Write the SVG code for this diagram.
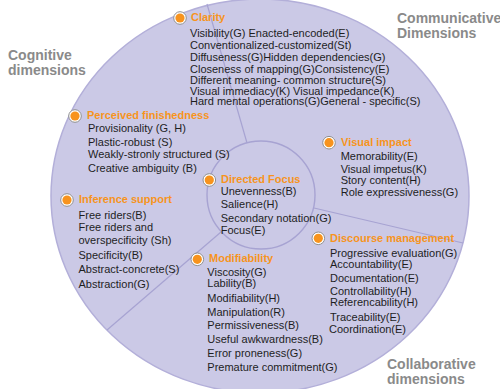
<svg xmlns="http://www.w3.org/2000/svg" width="500" height="389" viewBox="0 0 500 389">
  <style>
    .dim { font-family: "Liberation Sans", Arial, sans-serif; font-size: 14px; font-weight: bold; fill: #8a8a8a; }
    .head { font-family: "Liberation Sans", Arial, sans-serif; font-size: 11px; font-weight: bold; fill: #f7941d; }
    .item { font-family: "Liberation Sans", Arial, sans-serif; font-size: 11px; fill: #1e1e1e; }
    .ring { fill: #ffffff; stroke: #8f8f8f; stroke-width: 1; }
    .dot { fill: #f7931e; }
    .divider { stroke: #a7a3d2; stroke-width: 1.2; fill: none; }
  </style>
  <defs>
    <g id="bullet">
      <circle class="ring" r="6.3"/>
      <circle class="dot" r="4.6"/>
    </g>
  </defs>
  <rect width="500" height="389" fill="#ffffff"/>

  <!-- outer disc -->
  <g id="disc">
    <ellipse cx="260" cy="196" rx="209" ry="197" fill="#cbc9e6" stroke="#b3afd9" stroke-width="1.5"/>
  </g>

  <!-- spokes from the focus circle to the rim -->
  <g id="connectors">
    <line class="divider" x1="247" y1="143" x2="207" y2="4"/>
    <line class="divider" x1="314" y1="208" x2="463" y2="243"/>
    <line class="divider" x1="221" y1="232" x2="107" y2="330"/>
  </g>

  <g id="focus-circle">
    <circle cx="261" cy="195" r="54" fill="#cbc9e6" stroke="#a7a3d2" stroke-width="1.4"/>
  </g>

  <!-- dimension group labels -->
  <g id="cognitive">
    <text class="dim" x="8" y="60">Cognitive</text>
    <text class="dim" x="8" y="75">dimensions</text>
  </g>
  <g id="communicative">
    <text class="dim" x="397" y="23">Communicative</text>
    <text class="dim" x="397" y="38">Dimensions</text>
  </g>
  <g id="collaborative">
    <text class="dim" x="387" y="369">Collaborative</text>
    <text class="dim" x="387" y="384">dimensions</text>
  </g>

  <g id="clarity">
    <use href="#bullet" x="180" y="18"/>
    <text class="head" x="191" y="21">Clarity</text>
    <text class="item" x="190" y="37">Visibility(G) Enacted-encoded(E)</text>
    <text class="item" x="190" y="48.5">Conventionalized-customized(St)</text>
    <text class="item" x="190" y="60.5">Diffuseness(G)Hidden dependencies(G)</text>
    <text class="item" x="190" y="72.5">Closeness of mapping(G)Consistency(E)</text>
    <text class="item" x="190" y="84">Different meaning- common structure(S)</text>
    <text class="item" x="190" y="95">Visual immediacy(K) Visual impedance(K)</text>
    <text class="item" x="190" y="104.5">Hard mental operations(G)General - specific(S)</text>
  </g>

  <g id="perceived-finishedness">
    <use href="#bullet" x="75" y="116"/>
    <text class="head" x="87" y="119">Perceived finishedness</text>
    <text class="item" x="88" y="132.3">Provisionality (G, H)</text>
    <text class="item" x="88" y="145.7">Plastic-robust (S)</text>
    <text class="item" x="88" y="158.3">Weakly-stronly structured (S)</text>
    <text class="item" x="88" y="171.7">Creative ambiguity (B)</text>
  </g>

  <g id="inference-support">
    <use href="#bullet" x="67" y="200"/>
    <text class="head" x="79" y="203.3">Inference support</text>
    <text class="item" x="78.5" y="219">Free riders(B)</text>
    <text class="item" x="78.5" y="231">Free riders and</text>
    <text class="item" x="78.5" y="244">overspecificity (Sh)</text>
    <text class="item" x="78.5" y="259">Specificity(B)</text>
    <text class="item" x="78.5" y="273.3">Abstract-concrete(S)</text>
    <text class="item" x="78.5" y="287.7">Abstraction(G)</text>
  </g>

  <g id="directed-focus">
    <use href="#bullet" x="209.3" y="180"/>
    <text class="head" x="221" y="183.3">Directed Focus</text>
    <text class="item" x="220.7" y="195">Unevenness(B)</text>
    <text class="item" x="220.7" y="208.3">Salience(H)</text>
    <text class="item" x="220.7" y="221.7">Secondary notation(G)</text>
    <text class="item" x="220.7" y="234">Focus(E)</text>
  </g>

  <g id="visual-impact">
    <use href="#bullet" x="329" y="142.7"/>
    <text class="head" x="341" y="146">Visual impact</text>
    <text class="item" x="340.7" y="160">Memorability(E)</text>
    <text class="item" x="340.7" y="172.7">Visual impetus(K)</text>
    <text class="item" x="340.7" y="184">Story content(H)</text>
    <text class="item" x="340.7" y="195.7">Role expressiveness(G)</text>
  </g>

  <g id="discourse-management">
    <use href="#bullet" x="318.3" y="238.3"/>
    <text class="head" x="330" y="241.5">Discourse management</text>
    <text class="item" x="330" y="257.3">Progressive evaluation(G)</text>
    <text class="item" x="330" y="268">Accountability(E)</text>
    <text class="item" x="330" y="281.7">Documentation(E)</text>
    <text class="item" x="330" y="295">Controllability(H)</text>
    <text class="item" x="330" y="306">Referencability(H)</text>
    <text class="item" x="330" y="320.7">Traceability(E)</text>
    <text class="item" x="329" y="332.7">Coordination(E)</text>
  </g>

  <g id="modifiability">
    <use href="#bullet" x="197.3" y="259.3"/>
    <text class="head" x="209" y="261.7">Modifiability</text>
    <text class="item" x="207.3" y="276">Viscosity(G)</text>
    <text class="item" x="207.3" y="287.3">Lability(B)</text>
    <text class="item" x="207.3" y="301.7">Modifiability(H)</text>
    <text class="item" x="207.3" y="315.7">Manipulation(R)</text>
    <text class="item" x="207.3" y="329.3">Permissiveness(B)</text>
    <text class="item" x="207.3" y="343.3">Useful awkwardness(B)</text>
    <text class="item" x="207.3" y="357.3">Error proneness(G)</text>
    <text class="item" x="207.3" y="370.7">Premature commitment(G)</text>
  </g>
</svg>
